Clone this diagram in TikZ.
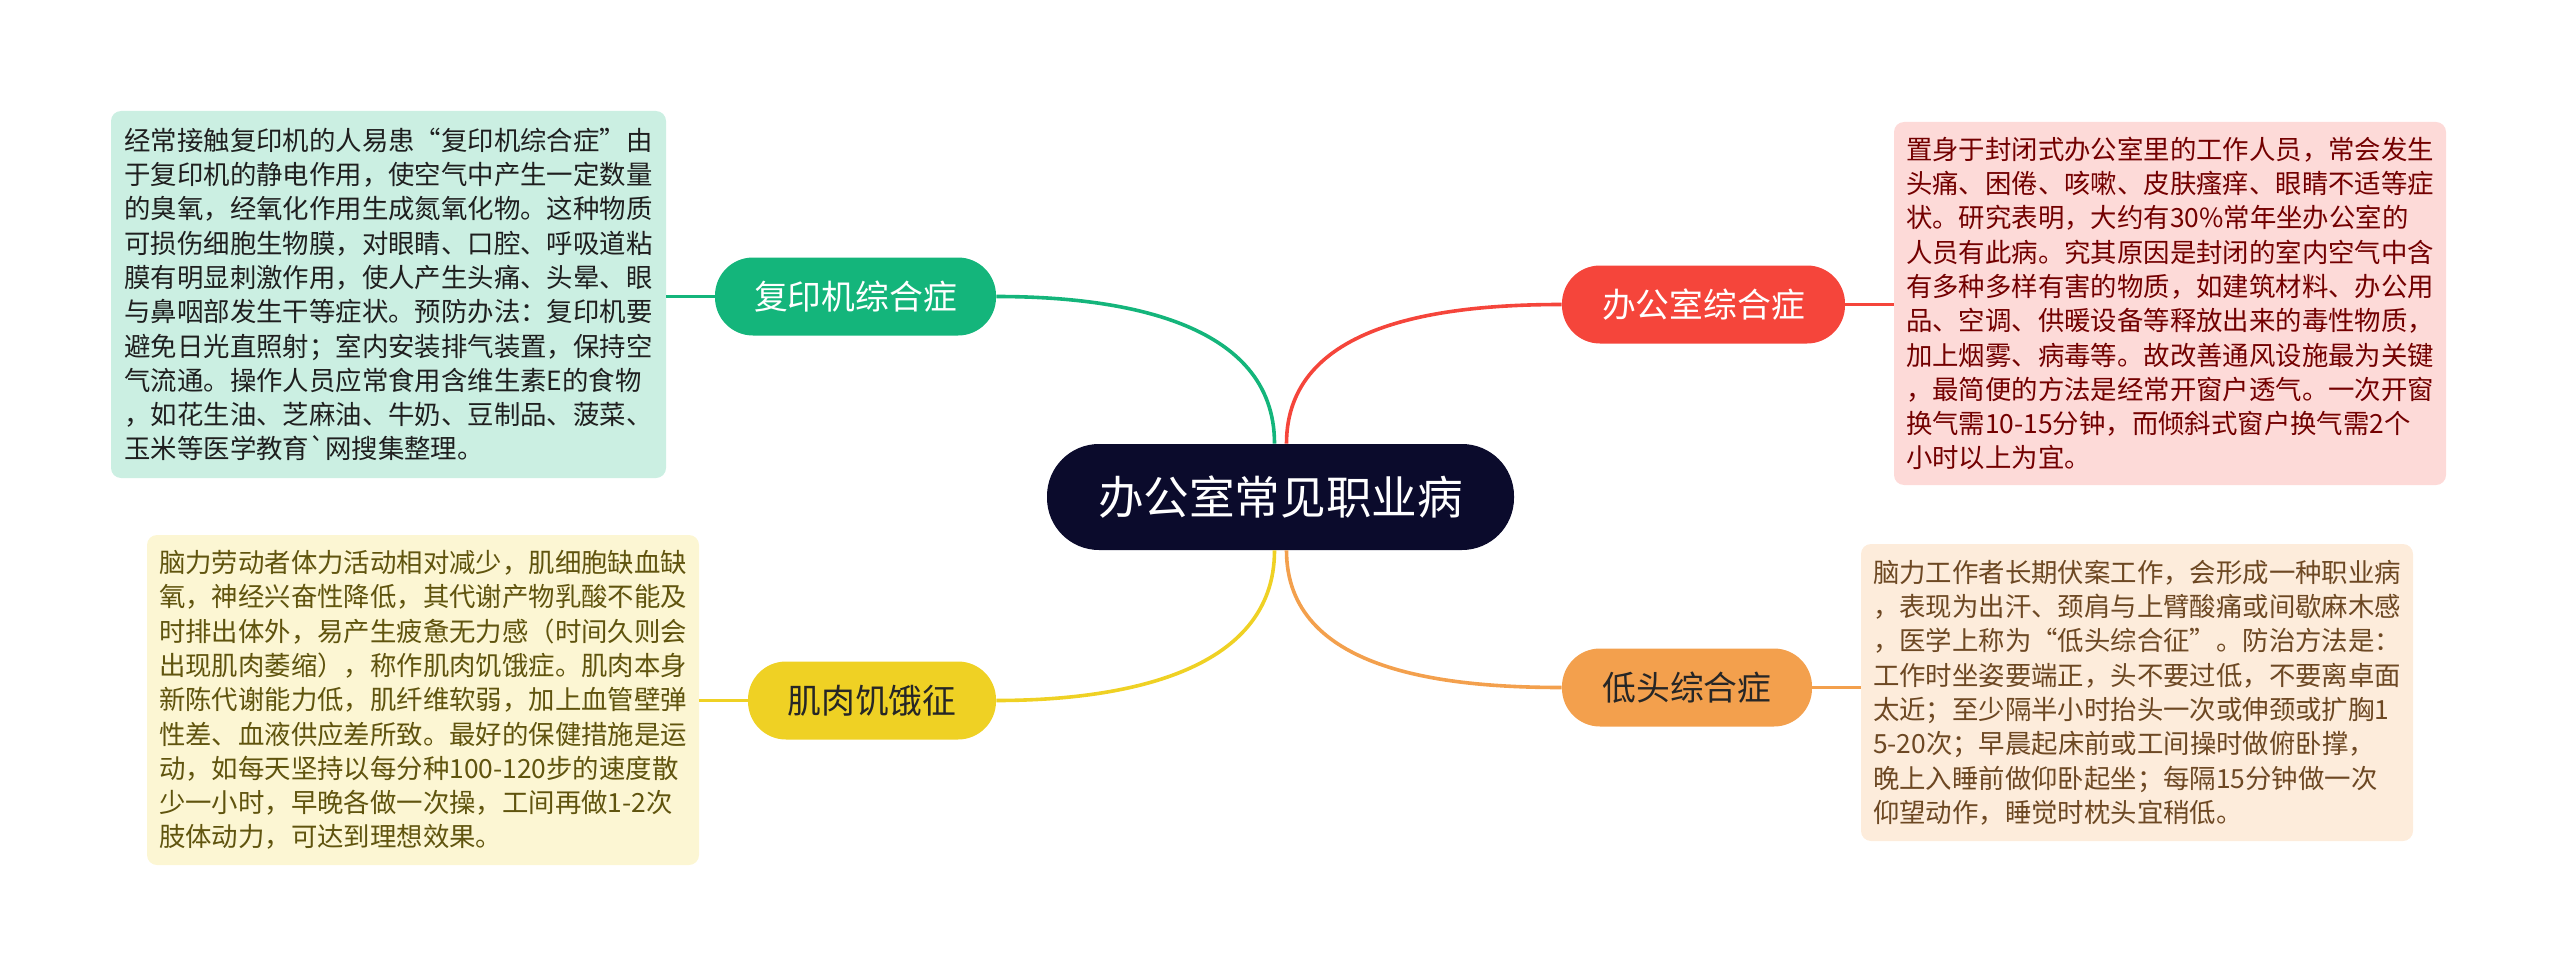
\documentclass[tikz,border=0pt]{standalone}
\usepackage{fontspec}
\newfontfamily\cjk{Noto Sans CJK SC}

\definecolor{rootc}{HTML}{0B0B2C}
\definecolor{greenc}{HTML}{14B57B}
\definecolor{redc}{HTML}{F5453B}
\definecolor{yellowc}{HTML}{EFD124}
\definecolor{orangec}{HTML}{F3A04D}

\tikzstyle{root} = [rounded corners=26pt, fill=rootc, text=white, minimum width=233.5pt, minimum height=53pt, font=\cjk\fontsize{22.8}{26}\selectfont]
\tikzstyle{topic} = [rounded corners=19pt, minimum height=39pt, inner sep=0pt, font=\cjk\fontsize{16.9}{20}\selectfont]
\tikzstyle{note} = [rounded corners=5pt, text width=264pt, align=left, inner sep=0pt, font=\cjk\fontsize{13.2}{17.15}\selectfont]
\tikzstyle{link} = [line width=1.8pt]

\begin{document}
\begin{tikzpicture}[x=0.5pt, y=0.5pt]
      \useasboundingbox (0,0) rectangle (2560,-979);
      \node[root] (root) at (1280.5,-497) {办公室常见职业病};
      \node[topic, fill=greenc, text=white, minimum width=140.5pt] (copier) at (855.5,-296.5) {复印机综合症};
      \node[topic, fill=redc, text=white, minimum width=141.5pt] (office) at (1703.5,-304.5) {办公室综合症};
      \node[topic, fill=yellowc, text=black!85, minimum width=124pt] (muscle) at (872,-700.5) {肌肉饥饿征};
      \node[topic, fill=orangec, text=black!85, minimum width=125pt] (neck) at (1687,-687.5) {低头综合症};
      % notes
      \node[note, fill=greenc!22, text=black!88, minimum width=277.5pt, minimum height=183.5pt] (copiernote) at (388.5,-294.5) {经常接触复印机的人易患“复印机综合症”由\\
于复印机的静电作用，使空气中产生一定数量\\
的臭氧，经氧化作用生成氮氧化物。这种物质\\
可损伤细胞生物膜，对眼睛、口腔、呼吸道粘\\
膜有明显刺激作用，使人产生头痛、头晕、眼\\
与鼻咽部发生干等症状。预防办法：复印机要\\
避免日光直照射；室内安装排气装置，保持空\\
气流通。操作人员应常食用含维生素E的食物\\
，如花生油、芝麻油、牛奶、豆制品、菠菜、\\
玉米等医学教育\textasciigrave 网搜集整理。};
      \node[note, fill=redc!20, text=red!45!black, minimum width=276pt, minimum height=181.5pt] (officenote) at (2170,-303.5) {置身于封闭式办公室里的工作人员，常会发生\\
头痛、困倦、咳嗽、皮肤瘙痒、眼睛不适等症\\
状。研究表明，大约有30\%常年坐办公室的\\
人员有此病。究其原因是封闭的室内空气中含\\
有多种多样有害的物质，如建筑材料、办公用\\
品、空调、供暖设备等释放出来的毒性物质，\\
加上烟雾、病毒等。故改善通风设施最为关键\\
，最简便的方法是经常开窗户透气。一次开窗\\
换气需10-15分钟，而倾斜式窗户换气需2个\\
小时以上为宜。};
      \node[note, fill=yellowc!20, text=yellowc!40!black, minimum width=276pt, minimum height=165pt] (musclenote) at (423,-700) {脑力劳动者体力活动相对减少，肌细胞缺血缺\\
氧，神经兴奋性降低，其代谢产物乳酸不能及\\
时排出体外，易产生疲惫无力感（时间久则会\\
出现肌肉萎缩），称作肌肉饥饿症。肌肉本身\\
新陈代谢能力低，肌纤维软弱，加上血管壁弹\\
性差、血液供应差所致。最好的保健措施是运\\
动，如每天坚持以每分种100-120步的速度散\\
少一小时，早晚各做一次操，工间再做1-2次\\
肢体动力，可达到理想效果。};
      \node[note, fill=orangec!20, text=orangec!45!black, minimum width=276pt, minimum height=148.5pt] (necknote) at (2137,-692.5) {脑力工作者长期伏案工作，会形成一种职业病\\
，表现为出汗、颈肩与上臂酸痛或间歇麻木感\\
，医学上称为“低头综合征”。防治方法是：\\
工作时坐姿要端正，头不要过低，不要离卓面\\
太近；至少隔半小时抬头一次或伸颈或扩胸1\\
5-20次；早晨起床前或工间操时做俯卧撑，\\
晚上入睡前做仰卧起坐；每隔15分钟做一次\\
仰望动作，睡觉时枕头宜稍低。};
      % links
      \draw[link, greenc] ([xshift=-3pt]root.north) to[out=90, in=0] (copier.east);
      \draw[link, redc] ([xshift=3pt]root.north) to[out=90, in=180] (office.west);
      \draw[link, yellowc] ([xshift=-3pt]root.south) to[out=-90, in=0] (muscle.east);
      \draw[link, orangec] ([xshift=3pt]root.south) to[out=-90, in=180] (neck.west);
      \draw[link, greenc] (copier.west) -- (copier.west -| copiernote.east);
      \draw[link, redc] (office.east) -- (office.east -| officenote.west);
      \draw[link, yellowc] (muscle.west) -- (muscle.west -| musclenote.east);
      \draw[link, orangec] (neck.east) -- (neck.east -| necknote.west);
    \end{tikzpicture}
\end{document}
